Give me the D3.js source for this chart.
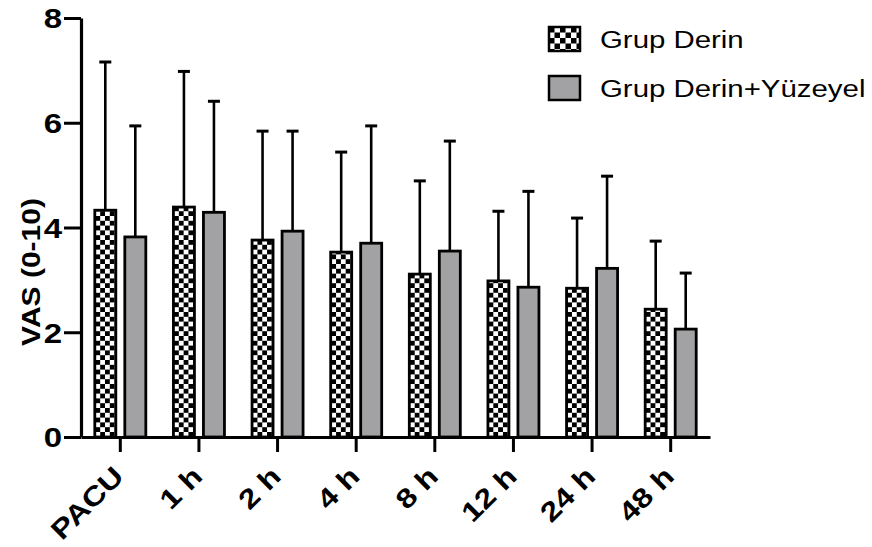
<!DOCTYPE html>
<html>
<head>
<meta charset="utf-8">
<script src="https://cdn.jsdelivr.net/npm/d3@7"></script>
<style>
  body { margin: 0; background: #fff; }
  text { font-family: "Liberation Sans", Arial, sans-serif; }
</style>
</head>
<body>
<div id="chart"></div>
<script>
// values
var categories = ["PACU", "1 h", "2 h", "4 h", "8 h", "12 h", "24 h", "48 h"];
var groups = ["Grup Derin", "Grup Derin+Yüzeyel"];
var derinMean = [4.33, 4.39, 3.76, 3.53, 3.11, 2.98, 2.84, 2.44];
var derinSD = [2.83, 2.59, 2.08, 1.91, 1.78, 1.33, 1.34, 1.30];
var yuzeyelMean = [3.82, 4.29, 3.93, 3.70, 3.55, 2.86, 3.22, 2.06];
var yuzeyelSD = [2.12, 2.12, 1.91, 2.24, 2.10, 1.83, 1.76, 1.07];
var yTicks = [0, 2, 4, 6, 8];

var width = 872, height = 547;
var sx = 1.2; // the fonts in the figure are wide

var svg = d3.select("#chart").append("svg")
    .attr("width", width)
    .attr("height", height)
    .style("background", "#fff");

var defs = svg.append("defs");
function checker(id, c) {
  var p = defs.append("pattern")
      .attr("id", id)
      .attr("patternUnits", "userSpaceOnUse")
      .attr("width", c * 2).attr("height", c * 2);
  p.append("rect").attr("width", c * 2).attr("height", c * 2).attr("fill", "#fff");
  p.append("rect").attr("width", c).attr("height", c).attr("fill", "#000");
  p.append("rect").attr("x", c).attr("y", c).attr("width", c).attr("height", c).attr("fill", "#000");
}
checker("chk", 4.8);
checker("chkLeg", 5.5);

var fills = ["url(#chk)", "#a2a2a5"];

var x = d3.scaleBand().domain(categories).range([81, 710]);
var x1 = d3.scaleBand().domain(groups).range([0, x.bandwidth()])
    .paddingInner(0.3).paddingOuter(0.46);
var y = d3.scaleLinear().domain([0, 8]).range([437, 18]);

var rows = categories.map(function (c, i) {
  return {
    cat: c,
    vals: [
      {g: groups[0], mean: derinMean[i], sd: derinSD[i]},
      {g: groups[1], mean: yuzeyelMean[i], sd: yuzeyelSD[i]}
    ]
  };
});

// error bars first so bars sit on top
var cg = svg.selectAll("g.cat")
    .data(rows)
    .enter().append("g")
    .attr("class", "cat")
    .attr("transform", function (d) { return "translate(" + x(d.cat) + ",0)"; });

var eb = cg.selectAll("g.err")
    .data(function (d) { return d.vals; })
    .enter().append("g").attr("class", "err");
eb.append("line")
    .attr("x1", function (d) { return x1(d.g) + x1.bandwidth() / 2; })
    .attr("x2", function (d) { return x1(d.g) + x1.bandwidth() / 2; })
    .attr("y1", function (d) { return y(d.mean); })
    .attr("y2", function (d) { return y(d.mean + d.sd); })
    .attr("stroke", "#000").attr("stroke-width", 2.6);
eb.append("line")
    .attr("x1", function (d) { return x1(d.g) + x1.bandwidth() / 2 - 6; })
    .attr("x2", function (d) { return x1(d.g) + x1.bandwidth() / 2 + 6; })
    .attr("y1", function (d) { return y(d.mean + d.sd); })
    .attr("y2", function (d) { return y(d.mean + d.sd); })
    .attr("stroke", "#000").attr("stroke-width", 3);

cg.selectAll("rect.bar")
    .data(function (d) { return d.vals; })
    .enter().append("rect")
    .attr("class", "bar")
    .attr("x", function (d) { return x1(d.g); })
    .attr("width", x1.bandwidth())
    .attr("y", function (d) { return y(d.mean); })
    .attr("height", function (d) { return y(0) - y(d.mean); })
    .attr("fill", function (d, i) { return fills[i]; })
    .attr("stroke", "#000")
    .attr("stroke-width", 2.8);

// y axis
var gy = svg.append("g")
    .attr("transform", "translate(81,0)")
    .call(d3.axisLeft(y).tickValues(yTicks).tickFormat(d3.format("d"))
      .tickSizeInner(17).tickSizeOuter(0).tickPadding(2));
gy.select(".domain").attr("stroke-width", 3.2);
gy.selectAll(".tick line").attr("stroke-width", 3);
gy.selectAll(".tick text")
    .attr("x", -19 / sx)
    .attr("dy", "0.36em")
    .attr("transform", "scale(" + sx + ",1)")
    .style("font-size", "27.5px")
    .style("font-weight", "bold")
    .attr("fill", "#000");

// x axis
var gx = svg.append("g")
    .attr("transform", "translate(0,437)")
    .call(d3.axisBottom(x).tickSizeInner(15).tickSizeOuter(0));
gx.select(".domain").attr("stroke-width", 3.2);
gx.selectAll(".tick line").attr("stroke-width", 3);
gx.selectAll(".tick text")
    .attr("x", 0).attr("y", 0).attr("dy", 0)
    .attr("text-anchor", "end")
    .attr("transform", "translate(5,41) rotate(-45) scale(" + sx + ",1)")
    .style("font-size", "27px")
    .style("font-weight", "bold")
    .attr("fill", "#000");

// y axis title
svg.append("text")
    .attr("transform", "translate(40,272) rotate(-90) scale(" + sx + ",1)")
    .attr("text-anchor", "middle")
    .style("font-size", "25px")
    .style("font-weight", "bold")
    .text("VAS (0-10)");

// legend
var legFills = ["url(#chkLeg)", "#a2a2a5"];
var leg = svg.selectAll("g.leg")
    .data(groups)
    .enter().append("g")
    .attr("class", "leg")
    .attr("transform", function (d, i) { return "translate(549," + (27 + i * 49) + ")"; });
leg.append("rect")
    .attr("width", 31).attr("height", 24)
    .attr("fill", function (d, i) { return legFills[i]; })
    .attr("stroke", "#000").attr("stroke-width", 2.5);
leg.append("text")
    .attr("transform", "translate(51,21) scale(" + sx + ",1)")
    .style("font-size", "24.5px")
    .text(function (d) { return d; });
</script>
</body>
</html>
